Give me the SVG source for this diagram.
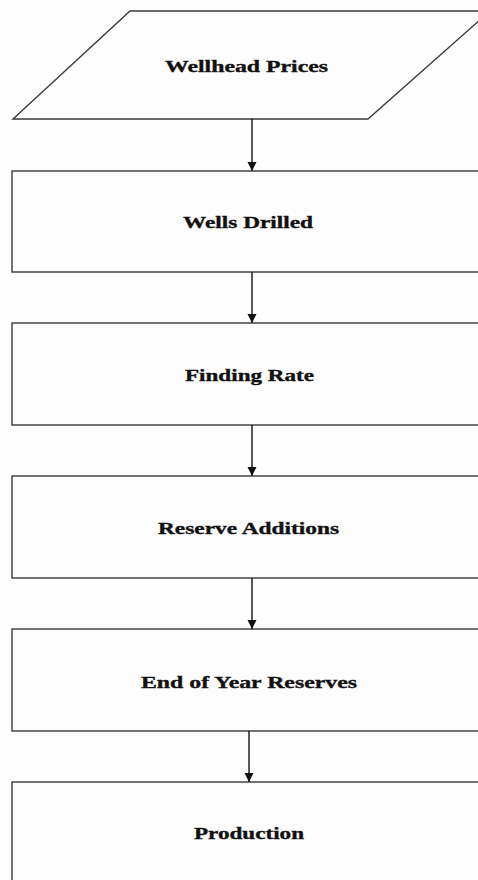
<svg xmlns="http://www.w3.org/2000/svg" width="478" height="880" viewBox="0 0 478 880">
<defs>
<style>
.shape{fill:#fdfdfd;stroke:#3a3a3a;stroke-width:1.4}
.lbl{font-family:"Liberation Serif","Times New Roman",serif;font-weight:bold;font-size:17px;fill:#111;stroke:#111;stroke-width:0.35;text-anchor:middle}
.conn{stroke:#111;stroke-width:1.4;fill:none}
</style>
<marker id="arr" markerWidth="9" markerHeight="10" refX="9" refY="4.5" orient="auto" markerUnits="userSpaceOnUse">
<path d="M0,0 L9,4.5 L0,9 Z" fill="#111"/>
</marker>
</defs>
<rect width="478" height="880" fill="#fdfdfd"/>
<g id="node-wellhead-prices">
<polygon class="shape" points="130,11 490,11 368,119 13,119"/>
<text class="lbl" x="246.5" y="72" textLength="163" lengthAdjust="spacingAndGlyphs">Wellhead Prices</text>
</g>
<g id="node-wells-drilled">
<rect class="shape" x="12" y="171" width="480" height="101"/>
<text class="lbl" x="248" y="228" textLength="130" lengthAdjust="spacingAndGlyphs">Wells Drilled</text>
</g>
<g id="node-finding-rate">
<rect class="shape" x="12" y="323" width="480" height="102"/>
<text class="lbl" x="249.5" y="381" textLength="129" lengthAdjust="spacingAndGlyphs">Finding Rate</text>
</g>
<g id="node-reserve-additions">
<rect class="shape" x="12" y="476" width="480" height="102"/>
<text class="lbl" x="248.5" y="534" textLength="181" lengthAdjust="spacingAndGlyphs">Reserve Additions</text>
</g>
<g id="node-end-of-year-reserves">
<rect class="shape" x="12" y="629" width="480" height="102"/>
<text class="lbl" x="249" y="688" textLength="216" lengthAdjust="spacingAndGlyphs">End of Year Reserves</text>
</g>
<g id="node-production">
<rect class="shape" x="12" y="782" width="480" height="120"/>
<text class="lbl" x="249" y="839" textLength="110" lengthAdjust="spacingAndGlyphs">Production</text>
</g>
<g id="connectors">
<line class="conn" x1="252" y1="119" x2="252" y2="171" marker-end="url(#arr)"/>
<line class="conn" x1="252" y1="272" x2="252" y2="323" marker-end="url(#arr)"/>
<line class="conn" x1="252" y1="425" x2="252" y2="476" marker-end="url(#arr)"/>
<line class="conn" x1="252" y1="578" x2="252" y2="629" marker-end="url(#arr)"/>
<line class="conn" x1="249" y1="731" x2="249" y2="782" marker-end="url(#arr)"/>
</g>
</svg>
